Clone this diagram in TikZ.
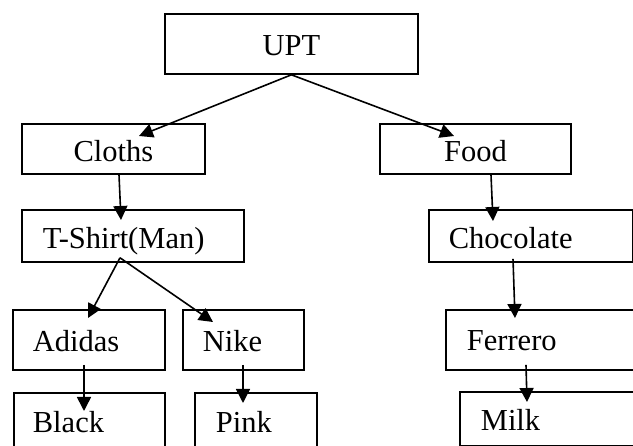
\documentclass[tikz,border=0pt]{standalone}
\usepackage{fontspec}
\setmainfont{Liberation Serif}
\usetikzlibrary{arrows.meta}
\begin{document}
\begin{tikzpicture}[x=1pt,y=-1pt,
  box/.style={draw, line width=1.8pt, anchor=north west, inner ysep=0pt,
    font=\fontsize{30.5}{36}\selectfont, text height=24pt, text depth=0pt},
  cbox/.style={box, inner xsep=0pt, align=center},
  lbox/.style={box, inner xsep=20pt, align=left},
  arr/.style={line width=1.6pt, -{Triangle[width=14pt,length=14pt]}}]
\useasboundingbox (0,0) rectangle (633,446);
\clip (0,0) rectangle (633,446);
\node[cbox, minimum width=253pt, minimum height=60pt] (upt) at (164,13) {UPT};
\node[cbox, minimum width=183pt, minimum height=50pt, text height=26pt] (cloths) at (21,123) {Cloths};
\node[cbox, minimum width=191pt, minimum height=50pt, text height=26pt] (food) at (379,123) {Food};
\node[lbox, inner xsep=21pt, text width=180pt, minimum height=52pt, text height=26pt] (tshirt) at (21,209) {T-Shirt(Man)};
\node[lbox, text width=164pt, minimum height=52pt, text height=26pt] (choc) at (428,209) {Chocolate};
\node[lbox, text width=112pt, minimum height=60pt] (adidas) at (12,309) {Adidas};
\node[lbox, text width=81pt, minimum height=60pt] (nike) at (182,309) {Nike};
\node[lbox, inner xsep=19pt, text width=113pt, minimum height=60pt, text height=20pt] (black) at (13,392) {Black};
\node[lbox, inner xsep=21pt, text width=80pt, minimum height=60pt, text height=20pt] (pink) at (194,392) {Pink};
\node[lbox, inner xsep=21pt, text width=158pt, minimum height=60pt, text height=22pt] (ferrero) at (445,309) {Ferrero};
\node[lbox, inner xsep=21pt, text width=148pt, minimum height=54pt] (milk) at (459,391) {Milk};
\draw[arr] (upt.south) -- ([shift={(118,13)}]cloths.north west);
\draw[arr] (upt.south) -- ([shift={(75,13)}]food.north west);
\draw[arr] ([shift={(98,0)}]cloths.south west) -- ([shift={(100,11)}]tshirt.north west);
\draw[arr] ([shift={(112,0)}]food.south west) -- ([shift={(65,12)}]choc.north west);
\draw[arr] ([shift={(99,-5)}]tshirt.south west) -- ([shift={(76,9)}]adidas.north west);
\draw[arr] ([shift={(99,-5)}]tshirt.south west) -- ([shift={(31,13)}]nike.north west);
\draw[arr] ([shift={(72,-6)}]adidas.south west) -- ([shift={(71,19)}]black.north west);
\draw[arr] ([shift={(61,-6)}]nike.south west) -- ([shift={(49,11)}]pink.north west);
\draw[arr] ([shift={(85,-4)}]choc.south west) -- ([shift={(70,9)}]ferrero.north west);
\draw[arr] ([shift={(81,-6)}]ferrero.south west) -- ([shift={(68,11)}]milk.north west);
\end{tikzpicture}
\end{document}
